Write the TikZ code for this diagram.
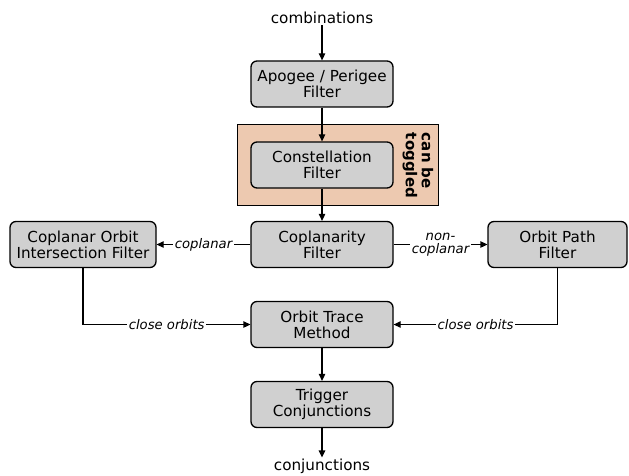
\documentclass[tikz,border=0pt]{standalone}
\usepackage{fontspec}
\setmainfont{DejaVu Sans}
\usetikzlibrary{arrows.meta}
\definecolor{boxgray}{HTML}{D0D0D0}
\definecolor{togglebg}{HTML}{EDC9B0}
\begin{document}
\begin{tikzpicture}[x=1pt,y=-1pt,
  procbox/.style={draw=black, line width=1.3pt, fill=boxgray, rounded corners=6pt,
    minimum width=142pt, minimum height=46pt, align=center, inner sep=1pt,
    font=\fontsize{15.2}{16}\selectfont},
  plain/.style={font=\fontsize{15.2}{16}\selectfont, inner sep=1pt},
  conn/.style={line width=1.3pt, -{Triangle[length=7pt,width=6.5pt]}},
  lbl/.style={fill=white, inner sep=1.5pt, align=center, font=\fontsize{13.2}{13.5}\selectfont\itshape}
]
\useasboundingbox (0,0) rectangle (629,476);
\node[plain] (comb) at (322,18) {combinations};
\node[draw=black, line width=0.8pt, fill=togglebg, minimum width=201pt, minimum height=81pt] (tog) at (337.5,164.5) {};
\node[procbox] (apo) at (322,84) {Apogee / Perigee\\Filter};
\node[procbox] (con) at (322,165) {Constellation\\Filter};
\node[font=\fontsize{15}{16}\selectfont\bfseries, rotate=-90, align=left, inner sep=0pt] (togtxt) at (418,165.5) {can be\\toggled};
\node[procbox] (cop) at (322,244.5) {Coplanarity\\Filter};
\node[procbox, minimum width=146pt] (coif) at (83,244.5) {Coplanar Orbit\\Intersection Filter};
\node[procbox, minimum width=139pt] (opf) at (557.5,244.5) {Orbit Path\\Filter};
\node[procbox] (otm) at (322,324.5) {Orbit Trace\\Method};
\node[procbox] (trig) at (322,404.5) {Trigger\\Conjunctions};
\node[plain] (conj) at (322,466) {conjunctions};
\draw[conn] (comb) -- (apo);
\draw[conn] (apo) -- (con);
\draw[conn] (con) -- (cop);
\draw[conn] (cop) -- node[lbl] {coplanar} (coif);
\draw[conn] (cop) -- node[lbl] {non-\\coplanar} (opf);
\draw[conn] (coif.south) |- node[lbl, pos=0.75] {close orbits} (otm.west);
\draw[conn] (opf.south) |- node[lbl, pos=0.75] {close orbits} (otm.east);
\draw[conn] (otm) -- (trig);
\draw[conn] (trig) -- (conj);
\end{tikzpicture}
\end{document}
